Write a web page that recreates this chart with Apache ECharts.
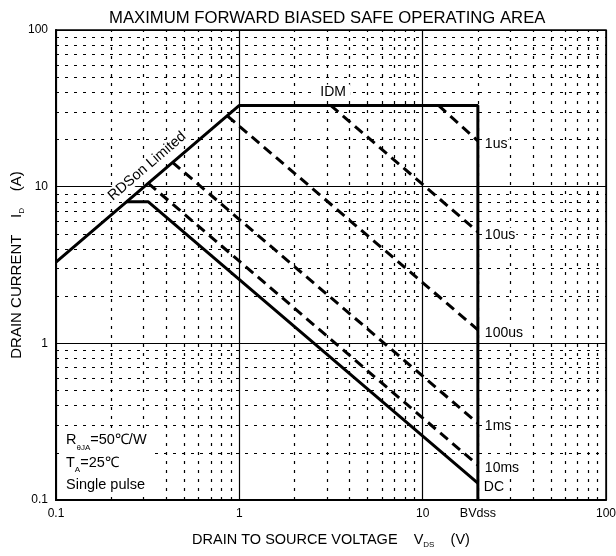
<!DOCTYPE html>
<html><head><meta charset="utf-8">
<script src="https://cdn.jsdelivr.net/npm/echarts@6/dist/echarts.min.js"></script>
<style>html,body{margin:0;padding:0;background:#fff}#c{width:616px;height:556px}</style>
</head><body><div id="c"></div>
<script>
const chartTitle = 'MAXIMUM FORWARD BIASED SAFE OPERATING AREA';
const xMinorGrid = [0.2,0.3,0.4,0.5,0.6,0.7,0.8,0.9,2,3,4,5,6,7,8,9,20,30,40,50,60,70,80,90];
const yMinorGrid = [0.2,0.3,0.4,0.5,0.6,0.7,0.8,0.9,2,3,4,5,6,7,8,9,20,30,40,50,60,70,80,90];
// RDSon limited -> IDM -> BVdss boundary
const boundaryLine = [[0.1,3.3],[1,33],[20,33],[20,0.1]];
const dcLine = [[0.242,8],[0.319,8],[20,0.128]];
const pulse1us = [[12.2,33],[20,19.6]];
const pulse10us = [[3.15,33],[20,5.15]];
const pulse100us = [[0.86,28.3],[20,1.22]];
const pulse1ms = [[0.432,14.3],[20,0.309]];
const pulse10ms = [[0.319,10.5],[20,0.167]];
const idmLabelAnchor = [3.25,33];
const rdsLabelAnchor = [0.314,13.5];
const bvdssAnchor = [20,0.1];

const FONT = 'Arial, "Liberation Sans", sans-serif';
const chart = echarts.init(document.getElementById('c'), null, {renderer:'canvas'});

function dashed(name, data){
  return {
    name, type:'line', data, symbol:'none', z:4, silent:true,
    lineStyle:{color:'#000', width:3, type:[10,6]},
    endLabel:{show:true, formatter:'{a}', distance:6, offset:[0,3], color:'#000',
      fontFamily:FONT, fontSize:14, backgroundColor:'#fff', padding:[0,1], textBorderWidth:0}
  };
}
function textAnchor(point, label){
  return {type:'scatter', data:[point], symbolSize:0, z:6, silent:true, clip:false,
    itemStyle:{opacity:1}, label:Object.assign({show:true, color:'#000', fontFamily:FONT,
      textBorderWidth:0, opacity:1}, label)};
}

const option = {
  animation:false,
  backgroundColor:'#fff',
  title:{text:chartTitle, left:104, top:5,
    textStyle:{fontFamily:FONT, fontSize:16.7, fontWeight:'normal', color:'#000'}},
  grid:{left:56, right:10, top:30, bottom:56, show:true, borderColor:'#000', borderWidth:1.5,
    outerBoundsMode:'none', containLabel:false},
  xAxis:{type:'log', logBase:10, min:0.1, max:100,
    name:'DRAIN TO SOURCE VOLTAGE    V{sub|DS}    (V)', nameLocation:'middle', nameGap:31,
    nameMoveOverlap:false,
    nameTextStyle:{fontFamily:FONT, fontSize:14.5, color:'#000', lineHeight:18,
      rich:{sub:{fontSize:8, verticalAlign:'bottom', lineHeight:8, fontFamily:FONT, color:'#000'}}},
    axisLine:{lineStyle:{color:'#000', width:2}},
    axisTick:{show:false},
    axisLabel:{color:'#000', fontFamily:FONT, fontSize:12, margin:8,
      formatter:v=>String(+(+v).toPrecision(3))},
    splitLine:{show:true, lineStyle:{color:'#000', width:1.2}}
  },
  yAxis:{type:'log', logBase:10, min:0.1, max:100,
    name:'DRAIN CURRENT    I{sub|D}    (A)', nameLocation:'middle', nameGap:30,
    nameMoveOverlap:false,
    nameTextStyle:{fontFamily:FONT, fontSize:15, color:'#000', lineHeight:18,
      rich:{sub:{fontSize:8, verticalAlign:'bottom', lineHeight:8, fontFamily:FONT, color:'#000'}}},
    axisLine:{lineStyle:{color:'#000', width:2}},
    axisTick:{show:false},
    axisLabel:{color:'#000', fontFamily:FONT, fontSize:12, margin:8,
      formatter:v=>String(+(+v).toPrecision(3))},
    splitLine:{show:true, lineStyle:{color:'#000', width:1.2}}
  },
  series:[
    {type:'line', data:[], z:1, silent:true,
      markLine:{z:1, silent:true, symbol:'none', animation:false, label:{show:false},
        lineStyle:{color:'#000', width:1.2, type:[3,6]},
        data:[...xMinorGrid.map(v=>({xAxis:v})), ...yMinorGrid.map(v=>({yAxis:v}))]}},
    {name:'boundary', type:'line', data:boundaryLine, symbol:'none', z:5, silent:true,
      lineStyle:{color:'#000', width:3}},
    {name:'DC', type:'line', data:dcLine, symbol:'none', z:5, silent:true,
      lineStyle:{color:'#000', width:3},
      endLabel:{show:true, formatter:'{a}', distance:5, offset:[0,4], color:'#000',
        fontFamily:FONT, fontSize:14, backgroundColor:'#fff', padding:[0,1], textBorderWidth:0}},
    dashed('1us', pulse1us),
    dashed('10us', pulse10us),
    dashed('100us', pulse100us),
    dashed('1ms', pulse1ms),
    dashed('10ms', pulse10ms),
    textAnchor(idmLabelAnchor, {formatter:'IDM', position:'top', distance:5, fontSize:14,
      backgroundColor:'#fff', padding:[1,4]}),
    textAnchor(rdsLabelAnchor, {formatter:'RDSon Limited', position:'inside', rotate:40.6,
      fontSize:14.5, backgroundColor:'#fff', padding:[0,2]}),
    textAnchor(bvdssAnchor, {formatter:'BVdss', position:'bottom', distance:7, fontSize:12.5})
  ],
  graphic:[{
    type:'text', left:62, top:429, z:10, silent:true,
    style:{
      text:'R{s|θJA}=50℃/W\nT{s|A}=25℃\nSingle pulse',
      font:'14.5px ' + FONT, fill:'#000', lineHeight:22.5,
      backgroundColor:'#fff', padding:[0,4,0,4],
      rich:{s:{fontSize:8, verticalAlign:'bottom', lineHeight:9, fill:'#000'}}
    }
  }]
};
chart.setOption(option);
</script></body></html>
